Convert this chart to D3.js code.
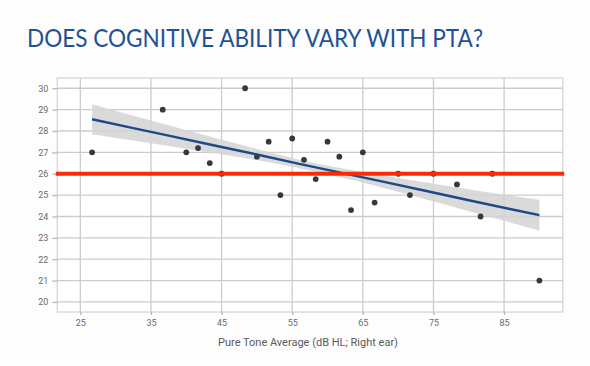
<!DOCTYPE html>
<html>
<head>
<meta charset="utf-8">
<script src="https://cdn.jsdelivr.net/npm/d3@7"></script>
<style>
  html, body { margin: 0; padding: 0; background: #fdfdfd; }
  svg { display: block; }
</style>
</head>
<body>
<svg id="chart" width="590" height="366"></svg>
<script>
// ---- data ----
const titleText = "DOES COGNITIVE ABILITY VARY WITH PTA?";
const xTitle = "Pure Tone Average (dB HL; Right ear)";
const xTicks = [25, 35, 45, 55, 65, 75, 85];
const yTicks = [20, 21, 22, 23, 24, 25, 26, 27, 28, 29, 30];

const pta = [26.67, 36.67, 40.0, 41.67, 43.33, 45.0, 48.33, 50.0, 51.67, 53.33, 55.0, 56.67, 58.33,
             60.0, 61.67, 63.33, 65.0, 66.67, 70.0, 71.67, 75.0, 78.33, 81.67, 83.33, 90.0];
const cognition = [27.0, 29.0, 27.0, 27.2, 26.5, 26.0, 30.0, 26.8, 27.5, 25.0, 27.65, 26.65, 25.75,
                   27.5, 26.8, 24.3, 27.0, 24.65, 26.0, 25.0, 26.0, 25.5, 24.0, 26.0, 21.0];

// fitted line and its confidence band
const bandX    = [26.67, 32, 38, 44, 50, 56, 62, 68, 74, 80, 86, 90];
const bandFit  = [28.55, 28.17, 27.75, 27.32, 26.90, 26.46, 26.04, 25.62, 25.19, 24.76, 24.34, 24.06];
const bandLow  = [27.85, 27.58, 27.28, 26.96, 26.64, 26.26, 25.82, 25.33, 24.79, 24.25, 23.71, 23.34];
const bandHigh = [29.25, 28.76, 28.22, 27.68, 27.16, 26.66, 26.26, 25.91, 25.59, 25.27, 24.97, 24.78];

const refValue = 26;

// ---- layout ----
const svg = d3.select("#chart");
const panel = { left: 57.3, right: 562.7, top: 78, bottom: 312 };

const x = d3.scaleLinear().domain([21.74, 93.3]).range([panel.left, panel.right]);
const y = d3.scaleLinear().domain([19.53, 30.48]).range([panel.bottom, panel.top]);

// title
svg.append("text")
  .attr("x", 27).attr("y", 47)
  .attr("font-family", "Lato, 'Open Sans', sans-serif")
  .attr("font-size", 25)
  .attr("font-weight", 400)
  .attr("fill", "#1f5295")
  .attr("textLength", 456)
  .attr("lengthAdjust", "spacingAndGlyphs")
  .text(titleText);

// panel background & border
svg.append("rect")
  .attr("x", panel.left).attr("y", panel.top)
  .attr("width", panel.right - panel.left).attr("height", panel.bottom - panel.top)
  .attr("fill", "#ffffff").attr("stroke", "#d6d6d6").attr("stroke-width", 1.3);

// gridlines
const grid = svg.append("g").attr("stroke", "#cccccc").attr("stroke-width", 1.3);
grid.selectAll("line.gy").data(yTicks).join("line")
  .attr("x1", panel.left).attr("x2", panel.right)
  .attr("y1", d => y(d)).attr("y2", d => y(d));
grid.selectAll("line.gx").data(xTicks).join("line")
  .attr("y1", panel.top).attr("y2", panel.bottom)
  .attr("x1", d => x(d)).attr("x2", d => x(d));

// axes
const yAxis = svg.append("g")
  .attr("transform", `translate(${panel.left},0)`)
  .call(d3.axisLeft(y).tickValues(yTicks).tickSize(5).tickPadding(4).tickFormat(d3.format("d")));
const xAxis = svg.append("g")
  .attr("transform", `translate(0,${panel.bottom})`)
  .call(d3.axisBottom(x).tickValues(xTicks).tickSize(3).tickPadding(5).tickFormat(d3.format("d")));
[yAxis, xAxis].forEach(a => {
  a.select(".domain").remove();
  a.selectAll(".tick line").attr("stroke", "#b8b8b8").attr("stroke-width", 1.3);
  a.selectAll(".tick text")
    .attr("fill", "#6b6b6b")
    .attr("font-family", "Roboto, 'DejaVu Sans', sans-serif")
    .attr("font-size", 9);
});

// x-axis title
svg.append("text")
  .attr("x", 308).attr("y", 346)
  .attr("text-anchor", "middle")
  .attr("font-family", "Roboto, 'DejaVu Sans', sans-serif")
  .attr("font-size", 11)
  .attr("fill", "#5a5a5a")
  .text(xTitle);

// confidence band
const bandData = bandX.map((d, i) => ({ x: d, lo: bandLow[i], hi: bandHigh[i], f: bandFit[i] }));
svg.append("path")
  .datum(bandData)
  .attr("fill", "#d4d4d4")
  .attr("fill-opacity", 0.85)
  .attr("d", d3.area().curve(d3.curveMonotoneX).x(d => x(d.x)).y0(d => y(d.lo)).y1(d => y(d.hi)));

// points
svg.append("g").selectAll("circle")
  .data(pta.map((d, i) => ({ x: d, y: cognition[i] })))
  .join("circle")
  .attr("cx", d => x(d.x)).attr("cy", d => y(d.y))
  .attr("r", 2.9)
  .attr("fill", "#383838");

// fit line
svg.append("path")
  .datum(bandData)
  .attr("fill", "none")
  .attr("stroke", "#1b4a86")
  .attr("stroke-width", 2.4)
  .attr("d", d3.line().x(d => x(d.x)).y(d => y(d.f)));

// reference line
svg.append("line")
  .attr("x1", panel.left - 1.5).attr("x2", panel.right + 1.5)
  .attr("y1", y(refValue)).attr("y2", y(refValue))
  .attr("stroke", "#fb2a07")
  .attr("stroke-width", 3.8);
</script>
</body>
</html>
